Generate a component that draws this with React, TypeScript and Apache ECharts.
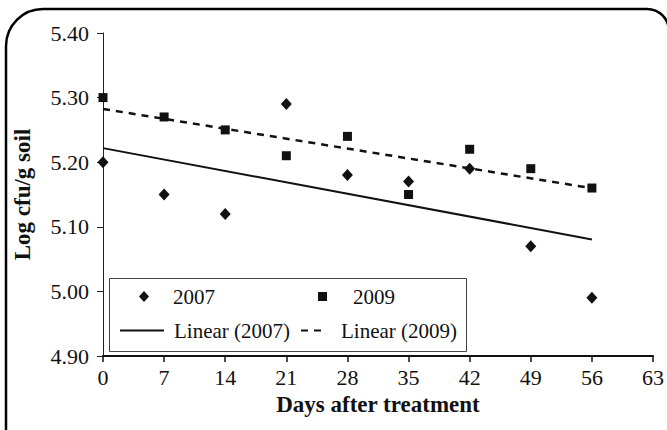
import { useEffect, useRef } from "react";
import * as echarts from "echarts";

// Sampling days and soil counts (log cfu/g soil) for the two seasons
const days = [0, 7, 14, 21, 28, 35, 42, 49, 56];
const counts2007 = [5.2, 5.15, 5.12, 5.29, 5.18, 5.17, 5.19, 5.07, 4.99];
const counts2009 = [5.3, 5.27, 5.25, 5.21, 5.24, 5.15, 5.22, 5.19, 5.16];

// Axis ranges
const xTicks = [0, 7, 14, 21, 28, 35, 42, 49, 56, 63];
const yTicks = [4.9, 5.0, 5.1, 5.2, 5.3, 5.4];

const serif = "Liberation Serif, Times New Roman, serif";
const ink = "#111";

// Least-squares trend line between the first and last sampling day
function linearTrend(xs: number[], ys: number[]): number[][] {
  const n = xs.length;
  const mx = xs.reduce((s, v) => s + v, 0) / n;
  const my = ys.reduce((s, v) => s + v, 0) / n;
  let sxy = 0;
  let sxx = 0;
  for (let i = 0; i < n; i++) {
    sxy += (xs[i] - mx) * (ys[i] - my);
    sxx += (xs[i] - mx) * (xs[i] - mx);
  }
  const slope = sxy / sxx;
  const icpt = my - slope * mx;
  const x0 = xs[0];
  const x1 = xs[n - 1];
  return [
    [x0, icpt + slope * x0],
    [x1, icpt + slope * x1],
  ];
}

const pairs = (xs: number[], ys: number[]) => xs.map((x, i) => [x, ys[i]]);

export default function App() {
  const ref = useRef<HTMLDivElement>(null);

  useEffect(() => {
    if (!ref.current) return;
    const chart = echarts.init(ref.current, undefined, { renderer: "svg" });

    const legendText = { fontFamily: serif, fontSize: 21, color: ink };
    const legendBase = {
      orient: "horizontal",
      padding: 0,
      itemGap: 0,
      selectedMode: false,
      z: 6,
    };

    chart.setOption({
      animation: false,
      backgroundColor: "#fff",
      textStyle: { fontFamily: serif },
      grid: {
        left: 103,
        right: 14,
        top: 33,
        bottom: 74,
        containLabel: false,
        outerBoundsMode: "none",
      },
      xAxis: {
        type: "value",
        min: xTicks[0],
        max: xTicks[xTicks.length - 1],
        interval: xTicks[1] - xTicks[0],
        splitLine: { show: false },
        axisLine: { onZero: false, lineStyle: { color: ink, width: 2 } },
        axisTick: { show: true, length: 6, lineStyle: { color: ink, width: 1.5 } },
        axisLabel: { fontFamily: serif, fontSize: 22, color: ink, margin: 10 },
        name: "Days after treatment",
        nameLocation: "middle",
        nameGap: 35,
        nameTextStyle: { fontFamily: serif, fontWeight: "bold", fontSize: 23, color: ink },
      },
      yAxis: {
        type: "value",
        min: yTicks[0],
        max: yTicks[yTicks.length - 1],
        interval: 0.1,
        splitLine: { show: false },
        axisLine: { show: true, onZero: false, lineStyle: { color: "#222", width: 1 } },
        axisTick: { show: true, length: 6, lineStyle: { color: "#222", width: 1 } },
        axisLabel: {
          fontFamily: serif,
          fontSize: 22,
          color: ink,
          margin: 14,
          formatter: (v: number) => v.toFixed(2),
        },
        name: "Log cfu/g soil",
        nameLocation: "middle",
        nameGap: 69,
        nameTextStyle: { fontFamily: serif, fontWeight: "bold", fontSize: 23, color: ink },
      },
      legend: [
        {
          ...legendBase,
          data: [{ name: "2007", icon: "diamond" }],
          left: 139,
          top: 286,
          itemWidth: 10,
          itemHeight: 11,
          textStyle: { ...legendText, padding: [0, 0, 0, 19] },
        },
        {
          ...legendBase,
          data: [{ name: "2009", icon: "rect" }],
          left: 318,
          top: 286,
          itemWidth: 9,
          itemHeight: 9,
          textStyle: { ...legendText, padding: [0, 0, 0, 21] },
        },
        {
          ...legendBase,
          data: ["Linear (2007)"],
          left: 119,
          top: 320,
          itemWidth: 44,
          itemHeight: 14,
          itemStyle: { opacity: 0 },
          textStyle: { ...legendText, padding: [0, 0, 0, 5] },
        },
        {
          ...legendBase,
          data: ["Linear (2009)"],
          left: 300,
          top: 320,
          itemWidth: 22,
          itemHeight: 14,
          itemStyle: { opacity: 0 },
          textStyle: { ...legendText, padding: [0, 0, 0, 13] },
        },
      ],
      graphic: [
        {
          type: "rect",
          silent: true,
          z: 0,
          shape: { x: 6, y: 9, width: 663, height: 500, r: [37, 22, 0, 0] },
          style: { fill: "none", stroke: "#000", lineWidth: 2.5 },
        },
        {
          type: "rect",
          silent: true,
          z: 1,
          shape: { x: 109.5, y: 278.5, width: 357, height: 73 },
          style: { fill: "#fff", stroke: "#444", lineWidth: 1 },
        },
      ],
      series: [
        {
          name: "Linear (2007)",
          type: "line",
          data: linearTrend(days, counts2007),
          symbol: "none",
          lineStyle: { color: ink, width: 2 },
          itemStyle: { color: ink },
          z: 3,
        },
        {
          name: "Linear (2009)",
          type: "line",
          data: linearTrend(days, counts2009),
          symbol: "none",
          lineStyle: { color: ink, width: 2.5, type: [7, 6] },
          itemStyle: { color: ink },
          z: 3,
        },
        {
          name: "2007",
          type: "scatter",
          data: pairs(days, counts2007),
          symbol: "diamond",
          symbolSize: [11, 12],
          itemStyle: { color: ink, opacity: 1 },
          z: 5,
        },
        {
          name: "2009",
          type: "scatter",
          data: pairs(days, counts2009),
          symbol: "rect",
          symbolSize: 9,
          itemStyle: { color: ink, opacity: 1 },
          z: 5,
        },
      ],
    });

    return () => chart.dispose();
  }, []);

  return (
    <div
      ref={ref}
      style={{ position: "fixed", left: 0, top: 0, width: 667, height: 430, background: "#fff" }}
    />
  );
}
